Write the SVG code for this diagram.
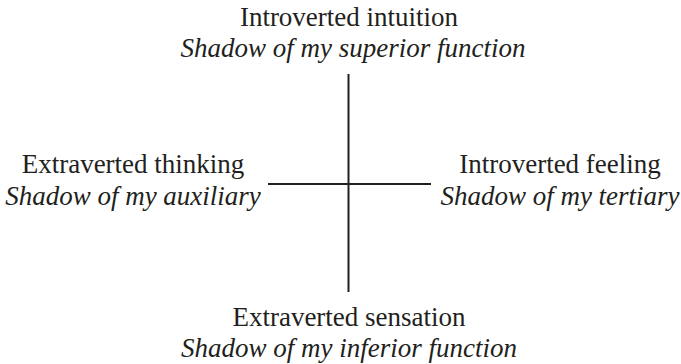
<svg xmlns="http://www.w3.org/2000/svg" width="681" height="364" viewBox="0 0 681 364">
<style>
text{font-family:"Liberation Serif","Times New Roman",serif;font-size:27px;fill:#231f20;text-anchor:middle}
.i{font-style:italic}
line{stroke:#231f20;stroke-width:2}
</style>
<rect width="681" height="364" fill="#fff"/>
<g id="connectors">
<line x1="348.5" y1="74" x2="348.5" y2="292"/>
<line x1="268" y1="184" x2="431" y2="184"/>
</g>
<g id="top"><text x="349" y="26">Introverted intuition</text><text class="i" x="353" y="57">Shadow of my superior function</text></g>
<g id="left"><text x="133" y="173">Extraverted thinking</text><text class="i" x="133" y="205">Shadow of my auxiliary</text></g>
<g id="right"><text x="560" y="173">Introverted feeling</text><text class="i" x="560" y="205">Shadow of my tertiary</text></g>
<g id="bottom"><text x="349" y="326">Extraverted sensation</text><text class="i" x="349" y="357">Shadow of my inferior function</text></g>
</svg>
